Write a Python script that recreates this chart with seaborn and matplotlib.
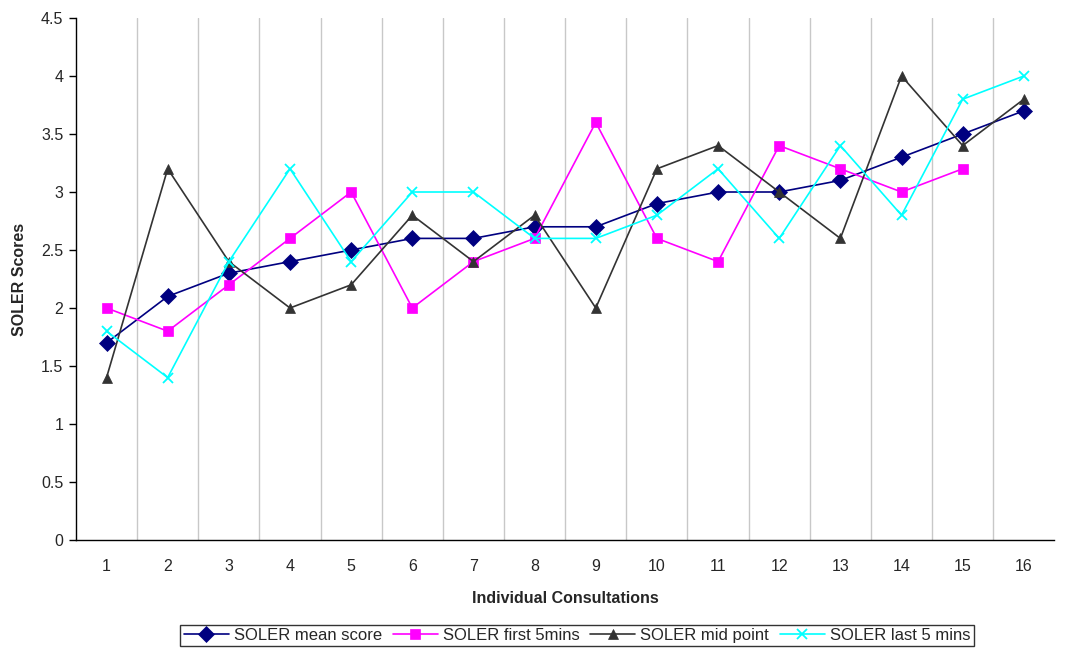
import matplotlib
matplotlib.use("Agg")
import matplotlib.pyplot as plt
import seaborn as sns
import pandas as pd
import numpy as np

# data
consultations = [str(i) for i in range(1, 17)]
mean_score = [1.7, 2.1, 2.3, 2.4, 2.5, 2.6, 2.6, 2.7, 2.7, 2.9, 3.0, 3.0, 3.1, 3.3, 3.5, 3.7]
first_5mins = [2.0, 1.8, 2.2, 2.6, 3.0, 2.0, 2.4, 2.6, 3.6, 2.6, 2.4, 3.4, 3.2, 3.0, 3.2, np.nan]
mid_point = [1.4, 3.2, 2.4, 2.0, 2.2, 2.8, 2.4, 2.8, 2.0, 3.2, 3.4, 3.0, 2.6, 4.0, 3.4, 3.8]
last_5mins = [1.8, 1.4, 2.4, 3.2, 2.4, 3.0, 3.0, 2.6, 2.6, 2.8, 3.2, 2.6, 3.4, 2.8, 3.8, 4.0]

series = [
    ("SOLER mean score", mean_score, "#000080", "D", 8.5),
    ("SOLER first 5mins", first_5mins, "#FF00FF", "s", 7),
    ("SOLER mid point", mid_point, "#333333", "^", 6.5),
    ("SOLER last 5 mins", last_5mins, "#00FFFF", "x", 7),
]

sns.set_style("white")
plt.rcParams['font.family'] = ['Liberation Sans', 'DejaVu Sans']
fs = 11.5

fig = plt.figure(figsize=(10.67, 6.48), dpi=100)
ax = fig.add_axes([0.0712, 0.1667, 0.917, 0.8055])

pos = np.arange(len(consultations))
for name, vals, color, marker, ms in series:
    df = pd.DataFrame({"x": pos, "y": vals}).dropna()
    sns.lineplot(data=df, x="x", y="y", ax=ax, color=color, marker=marker,
                 markersize=ms, markeredgecolor=color, markeredgewidth=1.3 if marker == "x" else 0.5,
                 linewidth=1.2, label=name)

# vertical gridlines between categories
for b in np.arange(0.5, len(consultations) - 1, 1.0):
    ax.axvline(b, color="#c8c8c8", linewidth=1, zorder=0)

ax.set_xlim(-0.5, len(consultations) - 0.5)
ax.set_ylim(0, 4.5)
ax.set_yticks(np.arange(0, 4.51, 0.5))
ax.set_yticklabels(["0", "0.5", "1", "1.5", "2", "2.5", "3", "3.5", "4", "4.5"])
ax.set_xticks(pos)
ax.set_xticklabels(consultations)
ax.set_xticks(np.arange(-0.5, len(consultations), 1.0), minor=True)
ax.tick_params(axis="x", which="major", length=0, labelsize=fs, pad=14)
ax.tick_params(axis="x", which="minor", length=5, width=1, color="black")
ax.tick_params(axis="y", length=5, width=1, color="black", labelsize=fs, left=True, pad=4)

for side in ["top", "right"]:
    ax.spines[side].set_visible(False)
for side in ["left", "bottom"]:
    ax.spines[side].set_color("black")
    ax.spines[side].set_linewidth(1)

ax.set_xlabel("Individual Consultations", fontsize=fs, fontweight="bold", labelpad=12)
ax.set_ylabel("SOLER Scores", fontsize=fs, fontweight="bold", labelpad=10)

leg = ax.legend(loc="upper center", bbox_to_anchor=(0.512, -0.146), ncol=4, frameon=True,
                fontsize=fs + 0.5, fancybox=False, edgecolor="black", handlelength=2.7,
                handletextpad=0.3, columnspacing=0.65, borderpad=0.2)
leg.get_frame().set_linewidth(1)

fig.savefig("out.png", dpi=100)
